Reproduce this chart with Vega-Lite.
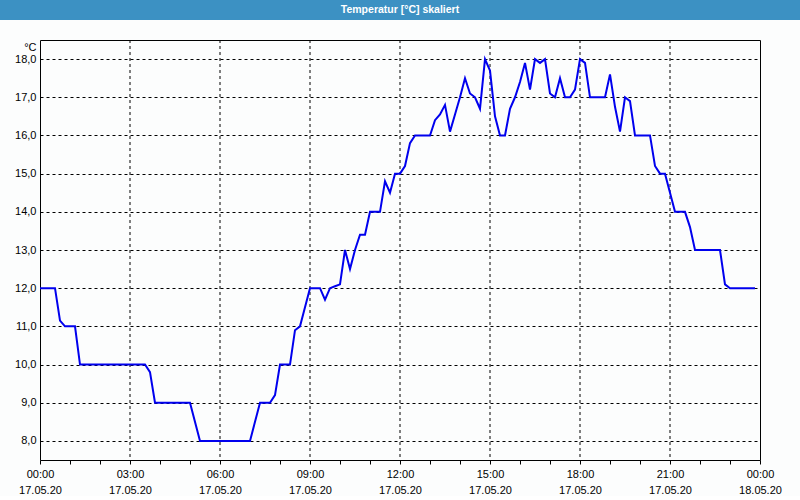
{
  "$schema": "https://vega.github.io/schema/vega-lite/v6.json",
  "padding": 0,
  "background": "#fcfdfd",
  "spacing": 20,
  "bounds": "flush",
  "center": true,
  "config": {
    "font": "Liberation Sans",
    "view": {"stroke": null}
  },
  "datasets": {
    "temp": [
      {"t": "2020-05-17T00:00", "v": 12.0},
      {"t": "2020-05-17T00:30", "v": 12.0},
      {"t": "2020-05-17T00:40", "v": 11.15},
      {"t": "2020-05-17T00:50", "v": 11.0},
      {"t": "2020-05-17T01:10", "v": 11.0},
      {"t": "2020-05-17T01:20", "v": 10.0},
      {"t": "2020-05-17T03:30", "v": 10.0},
      {"t": "2020-05-17T03:40", "v": 9.8},
      {"t": "2020-05-17T03:50", "v": 9.0},
      {"t": "2020-05-17T05:00", "v": 9.0},
      {"t": "2020-05-17T05:20", "v": 8.0},
      {"t": "2020-05-17T07:00", "v": 8.0},
      {"t": "2020-05-17T07:20", "v": 9.0},
      {"t": "2020-05-17T07:40", "v": 9.0},
      {"t": "2020-05-17T07:50", "v": 9.2},
      {"t": "2020-05-17T08:00", "v": 10.0},
      {"t": "2020-05-17T08:20", "v": 10.0},
      {"t": "2020-05-17T08:30", "v": 10.9},
      {"t": "2020-05-17T08:40", "v": 11.0},
      {"t": "2020-05-17T08:50", "v": 11.5},
      {"t": "2020-05-17T09:00", "v": 12.0},
      {"t": "2020-05-17T09:20", "v": 12.0},
      {"t": "2020-05-17T09:30", "v": 11.7},
      {"t": "2020-05-17T09:40", "v": 12.0},
      {"t": "2020-05-17T09:50", "v": 12.05},
      {"t": "2020-05-17T10:00", "v": 12.1},
      {"t": "2020-05-17T10:10", "v": 13.0},
      {"t": "2020-05-17T10:20", "v": 12.5},
      {"t": "2020-05-17T10:30", "v": 13.0},
      {"t": "2020-05-17T10:40", "v": 13.4},
      {"t": "2020-05-17T10:50", "v": 13.4},
      {"t": "2020-05-17T11:00", "v": 14.0},
      {"t": "2020-05-17T11:20", "v": 14.0},
      {"t": "2020-05-17T11:30", "v": 14.8},
      {"t": "2020-05-17T11:40", "v": 14.5},
      {"t": "2020-05-17T11:50", "v": 15.0},
      {"t": "2020-05-17T12:00", "v": 15.0},
      {"t": "2020-05-17T12:10", "v": 15.2},
      {"t": "2020-05-17T12:20", "v": 15.8},
      {"t": "2020-05-17T12:30", "v": 16.0},
      {"t": "2020-05-17T13:00", "v": 16.0},
      {"t": "2020-05-17T13:10", "v": 16.4},
      {"t": "2020-05-17T13:20", "v": 16.55},
      {"t": "2020-05-17T13:30", "v": 16.8},
      {"t": "2020-05-17T13:40", "v": 16.1},
      {"t": "2020-05-17T13:50", "v": 16.55},
      {"t": "2020-05-17T14:00", "v": 17.0},
      {"t": "2020-05-17T14:10", "v": 17.5},
      {"t": "2020-05-17T14:20", "v": 17.1},
      {"t": "2020-05-17T14:30", "v": 17.0},
      {"t": "2020-05-17T14:40", "v": 16.7},
      {"t": "2020-05-17T14:50", "v": 18.0},
      {"t": "2020-05-17T15:00", "v": 17.7},
      {"t": "2020-05-17T15:10", "v": 16.5},
      {"t": "2020-05-17T15:20", "v": 16.0},
      {"t": "2020-05-17T15:30", "v": 16.0},
      {"t": "2020-05-17T15:40", "v": 16.7},
      {"t": "2020-05-17T15:50", "v": 17.0},
      {"t": "2020-05-17T16:00", "v": 17.4},
      {"t": "2020-05-17T16:10", "v": 17.9},
      {"t": "2020-05-17T16:20", "v": 17.2},
      {"t": "2020-05-17T16:30", "v": 18.0},
      {"t": "2020-05-17T16:40", "v": 17.9},
      {"t": "2020-05-17T16:50", "v": 18.0},
      {"t": "2020-05-17T17:00", "v": 17.1},
      {"t": "2020-05-17T17:10", "v": 17.0},
      {"t": "2020-05-17T17:20", "v": 17.5},
      {"t": "2020-05-17T17:30", "v": 17.0},
      {"t": "2020-05-17T17:40", "v": 17.0},
      {"t": "2020-05-17T17:50", "v": 17.2},
      {"t": "2020-05-17T18:00", "v": 18.0},
      {"t": "2020-05-17T18:10", "v": 17.9},
      {"t": "2020-05-17T18:20", "v": 17.0},
      {"t": "2020-05-17T18:50", "v": 17.0},
      {"t": "2020-05-17T19:00", "v": 17.6},
      {"t": "2020-05-17T19:10", "v": 16.75},
      {"t": "2020-05-17T19:20", "v": 16.1},
      {"t": "2020-05-17T19:30", "v": 17.0},
      {"t": "2020-05-17T19:40", "v": 16.9},
      {"t": "2020-05-17T19:50", "v": 16.0},
      {"t": "2020-05-17T20:20", "v": 16.0},
      {"t": "2020-05-17T20:30", "v": 15.2},
      {"t": "2020-05-17T20:40", "v": 15.0},
      {"t": "2020-05-17T20:50", "v": 15.0},
      {"t": "2020-05-17T21:00", "v": 14.5},
      {"t": "2020-05-17T21:10", "v": 14.0},
      {"t": "2020-05-17T21:30", "v": 14.0},
      {"t": "2020-05-17T21:40", "v": 13.6},
      {"t": "2020-05-17T21:50", "v": 13.0},
      {"t": "2020-05-17T22:40", "v": 13.0},
      {"t": "2020-05-17T22:50", "v": 12.1},
      {"t": "2020-05-17T23:00", "v": 12.0},
      {"t": "2020-05-17T23:50", "v": 12.0}
    ],
    "grid": [
      {"t": "2020-05-17T03:00"},
      {"t": "2020-05-17T06:00"},
      {"t": "2020-05-17T09:00"},
      {"t": "2020-05-17T12:00"},
      {"t": "2020-05-17T15:00"},
      {"t": "2020-05-17T18:00"},
      {"t": "2020-05-17T21:00"}
    ]
  },
  "vconcat": [
    {
      "width": 800,
      "height": 20,
      "view": {"fill": "#3c91c3", "stroke": null},
      "data": {"values": [{"label": "Temperatur [°C] skaliert"}]},
      "mark": {"type": "text", "color": "white", "font": "Liberation Sans", "fontSize": 10.5, "fontWeight": "bold", "baseline": "middle", "align": "center"},
      "encoding": {"text": {"field": "label", "type": "nominal"}}
    },
    {
      "width": 720,
      "height": 420,
      "view": {"stroke": "black", "strokeWidth": 1, "fill": "#fcfdfd"},
      "resolve": {"axis": {"x": "independent"}},
      "layer": [
        {
          "data": {"name": "grid"},
          "mark": {"type": "rule", "color": "black", "strokeWidth": 1, "strokeDash": [3, 3]},
          "encoding": {
            "x": {
              "field": "t",
              "type": "temporal",
              "axis": {
                "orient": "bottom",
                "title": null,
                "values": [
                  {"year": 2020, "month": 5, "date": 17, "hours": 0},
                  {"year": 2020, "month": 5, "date": 17, "hours": 3},
                  {"year": 2020, "month": 5, "date": 17, "hours": 6},
                  {"year": 2020, "month": 5, "date": 17, "hours": 9},
                  {"year": 2020, "month": 5, "date": 17, "hours": 12},
                  {"year": 2020, "month": 5, "date": 17, "hours": 15},
                  {"year": 2020, "month": 5, "date": 17, "hours": 18},
                  {"year": 2020, "month": 5, "date": 17, "hours": 21},
                  {"year": 2020, "month": 5, "date": 18, "hours": 0}
                ],
                "domain": false,
                "tickColor": "black",
                "tickSize": 4,
                "grid": false,
                "labelExpr": "[timeFormat(datum.value, '%H:%M'), timeFormat(datum.value, '%d.%m.%y')]",
                "labelFont": "Liberation Sans",
                "labelFontSize": 11,
                "labelColor": "black",
                "labelPadding": 4,
                "labelLineHeight": 16,
                "labelFlush": false,
                "labelOverlap": false
              }
            }
          }
        },
        {
          "data": {"name": "temp"},
          "mark": {"type": "line", "color": "#0000ee", "strokeWidth": 2},
          "encoding": {
            "x": {
              "field": "t",
              "type": "temporal",
              "scale": {
                "domain": [
                  {"year": 2020, "month": 5, "date": 17, "hours": 0},
                  {"year": 2020, "month": 5, "date": 18, "hours": 0}
                ],
                "nice": false
              },
              "axis": {
                "orient": "bottom",
                "title": null,
                "values": [
                  {"year": 2020, "month": 5, "date": 17, "hours": 1},
                  {"year": 2020, "month": 5, "date": 17, "hours": 2},
                  {"year": 2020, "month": 5, "date": 17, "hours": 4},
                  {"year": 2020, "month": 5, "date": 17, "hours": 5},
                  {"year": 2020, "month": 5, "date": 17, "hours": 7},
                  {"year": 2020, "month": 5, "date": 17, "hours": 8},
                  {"year": 2020, "month": 5, "date": 17, "hours": 10},
                  {"year": 2020, "month": 5, "date": 17, "hours": 11},
                  {"year": 2020, "month": 5, "date": 17, "hours": 13},
                  {"year": 2020, "month": 5, "date": 17, "hours": 14},
                  {"year": 2020, "month": 5, "date": 17, "hours": 16},
                  {"year": 2020, "month": 5, "date": 17, "hours": 17},
                  {"year": 2020, "month": 5, "date": 17, "hours": 19},
                  {"year": 2020, "month": 5, "date": 17, "hours": 20},
                  {"year": 2020, "month": 5, "date": 17, "hours": 22},
                  {"year": 2020, "month": 5, "date": 17, "hours": 23}
                ],
                "domain": false,
                "tickColor": "black",
                "tickSize": 4,
                "grid": false,
                "labels": false
              }
            },
            "y": {
              "field": "v",
              "type": "quantitative",
              "scale": {"domain": [7.5, 18.5], "nice": false, "zero": false},
              "axis": {
                "values": [8, 9, 10, 11, 12, 13, 14, 15, 16, 17, 18],
                "labelExpr": "replace(format(datum.value, '.1f'), '.', ',')",
                "domain": false,
                "ticks": false,
                "grid": true,
                "gridColor": "black",
                "gridDash": [3, 3],
                "labelFont": "Liberation Sans",
                "labelFontSize": 11,
                "labelColor": "black",
                "labelPadding": 4,
                "title": "°C",
                "titleAngle": 0,
                "titleFont": "Liberation Sans",
                "titleFontSize": 11,
                "titleFontWeight": "normal",
                "titleColor": "black",
                "titleAlign": "right",
                "titleBaseline": "top",
                "titleX": -4,
                "titleY": 1
              }
            }
          }
        }
      ]
    }
  ]
}
